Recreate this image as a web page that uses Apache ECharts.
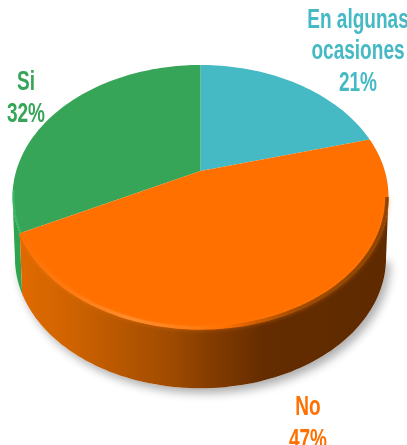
<!DOCTYPE html>
<html><head><meta charset="utf-8">
<style>html,body{margin:0;padding:0;background:#fff;overflow:hidden}#c{width:407px;height:445px}</style>
<script src="https://cdn.jsdelivr.net/npm/echarts@6/dist/echarts.min.js"></script>
</head><body><div id="c"></div>
<script>
var categories = ['En algunas ocasiones', 'No', 'Si'];
var values = [21, 47, 32];
var percentLabels = ['21%', '47%', '32%'];
var topColors = ['#45b9c4', '#ff7000', '#36a558'];
var labelColors = ['#45b9c4', '#ff7000', '#36a558'];

var CX = 200.5, CY = 197, RX = 188, RY = 132, PERSP = 0.197, DEPTH = 61, BASEK = 0.987, WARP = 1;
var FONT = '"Liberation Sans", Arial, sans-serif';
var total = values.reduce(function (a, b) { return a + b; }, 0);

function rim(deg) {
  var t = (deg - WARP * (1 - Math.cos(deg * Math.PI / 180))) * Math.PI / 180, s = Math.sin(t), c = Math.cos(t);
  var den = 1 + PERSP * c;
  var nx = Math.sqrt(1 - PERSP * PERSP) * s / den;
  var ny = (c + PERSP) / den;
  return [CX + RX * nx, CY - RY * ny];
}
function arc(a0, a1) {
  var pts = [], n = Math.max(2, Math.ceil((a1 - a0) / 1.5));
  for (var i = 0; i <= n; i++) pts.push(rim(a0 + (a1 - a0) * i / n));
  return pts;
}
function shrink(pts, k, dy) {
  return pts.map(function (p) { return [CX + (p[0] - CX) * k, CY + (p[1] - CY) * k + (dy || 0)]; });
}
function lower(p) { return p[1] >= CY - 2; }
function hgrad(stops) {
  return { type: 'linear', x: 0, y: 0, x2: 407, y2: 0, global: true,
    colorStops: stops.map(function (s) { return { offset: s[0] / 407, color: s[1] }; }) };
}

function renderItem(params, api) {
  if (params.dataIndex !== 0) return null;
  var kids = [], start = 0, spans = [];
  values.forEach(function (v) { var e = start + v / total * 360; spans.push([start, e]); start = e; });
  var apex = [CX, CY - RY * PERSP];

  // drop shadow under whole solid
  var frontRim = arc(0, 360).filter(lower);
  frontRim.sort(function (a, b) { return b[0] - a[0]; });
  var base = shrink(frontRim, BASEK, DEPTH);
  kids.push({ type: 'polygon', shape: { points: base },
    style: { fill: '#fff', shadowBlur: 10, shadowColor: 'rgba(0,0,0,0.32)', shadowOffsetX: 4, shadowOffsetY: 5 } });

  // side walls
  var green = arc(spans[2][0], spans[2][1]).filter(lower);
  kids.push({ type: 'polygon', shape: { points: green.concat(shrink(green, BASEK, DEPTH).reverse()) },
    style: { fill: '#2ea350' } });
  var orange = arc(spans[1][0], spans[1][1]).filter(lower);
  kids.push({ type: 'polygon', shape: { points: orange.concat(shrink(orange, BASEK, DEPTH).reverse()) },
    style: { fill: hgrad([[20, '#e06a00'], [70, '#cf6300'], [120, '#b85700'], [170, '#a04b00'], [210, '#853c00'], [265, '#642c00'], [390, '#5f2a00']]) } });

  // top faces
  [0, 2, 1].forEach(function (i) {
    kids.push({ type: 'polygon', shape: { points: [apex].concat(arc(spans[i][0], spans[i][1])) },
      style: { fill: topColors[i] } });
  });

  // rim bevels
  var rimOrange = shrink(arc(spans[1][0], spans[1][1]).filter(lower), 0.992);
  kids.push({ type: 'polyline', shape: { points: rimOrange },
    style: { fill: null, lineWidth: 3.5, shadowBlur: 4, shadowColor: 'rgba(255,125,20,0.5)',
      stroke: hgrad([[20, '#ff7000'], [70, '#ff7a10'], [130, '#ff8c2c'], [190, '#ff7e14'], [225, '#ff7000'], [250, '#d96000'], [300, '#a04c00'], [388, '#8f4400']]) } });
  var rimGreen = shrink(arc(spans[2][0], spans[2][0] + 18), 0.994);
  kids.push({ type: 'polyline', shape: { points: rimGreen },
    style: { fill: null, lineWidth: 2, stroke: '#3ab862' } });

  // labels: [centre x, first baseline, line step]
  var cols = [[358, 30, 31.5], [308, 417, 33], [26, 92, 32]];
  var nameLines = [['En algunas', 'ocasiones'], ['No'], ['Si']];
  nameLines.forEach(function (lines, i) {
    lines.concat([percentLabels[i]]).forEach(function (t, r) {
      kids.push({ type: 'text', x: cols[i][0], y: cols[i][1] + r * cols[i][2] - 10, scaleX: 0.68,
        style: { x: 0, y: 0, text: t, fill: labelColors[i], font: 'bold 28px ' + FONT, align: 'center', verticalAlign: 'middle' } });
    });
  });
  return { type: 'group', children: kids };
}

var chart = echarts.init(document.getElementById('c'), null, { width: 407, height: 445 });
chart.setOption({
  animation: false,
  backgroundColor: '#fff',
  series: [{ type: 'custom', coordinateSystem: 'none', silent: true, renderItem: renderItem,
    data: values.map(function (v, i) { return { name: categories[i], value: v }; }) }]
});
</script></body></html>
